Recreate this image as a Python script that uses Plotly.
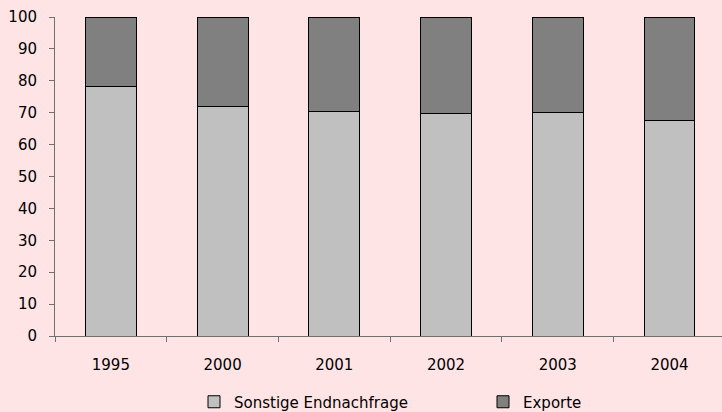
import plotly.graph_objects as go

years = ["1995", "2000", "2001", "2002", "2003", "2004"]
sonstige = [78.2, 71.8, 70.4, 69.6, 70.1, 67.4]
exporte = [round(100 - v, 1) for v in sonstige]

FONT = "DejaVu Sans"
BG = "#FFE4E6"

fig = go.Figure()
fig.add_trace(go.Bar(
    x=years, y=sonstige, name="Sonstige Endnachfrage",
    marker=dict(color="#C0C0C0", line=dict(color="#000000", width=1)),
))
fig.add_trace(go.Bar(
    x=years, y=exporte, name="Exporte",
    marker=dict(color="#808080", line=dict(color="#000000", width=1)),
))

fig.update_layout(
    barmode="stack",
    bargap=0.545,
    width=722, height=412,
    paper_bgcolor=BG, plot_bgcolor=BG,
    margin=dict(l=55, r=0, t=17, b=76),
    font=dict(family=FONT, size=15, color="#000000"),
    showlegend=True,
    legend=dict(
        orientation="h", xref="container", yref="container",
        x=194 / 722, y=10 / 412, xanchor="left", yanchor="middle",
        font=dict(family=FONT, size=15), entrywidth=244,
        bgcolor="rgba(0,0,0,0)", traceorder="normal",
    ),
)
fig.update_xaxes(
    type="category", range=[-0.5, 5.47],
    showline=True, linecolor="#707070", linewidth=1,
    ticks="outside", tickson="boundaries", ticklen=5, tickcolor="#707070",
    showgrid=False, ticklabelstandoff=15,
)
fig.update_yaxes(
    range=[0, 100], dtick=10,
    showline=True, linecolor="#707070", linewidth=1,
    ticks="outside", ticklen=5, tickcolor="#707070",
    showgrid=False, zeroline=False, ticklabelstandoff=9,
)

fig.write_html("out.html")
